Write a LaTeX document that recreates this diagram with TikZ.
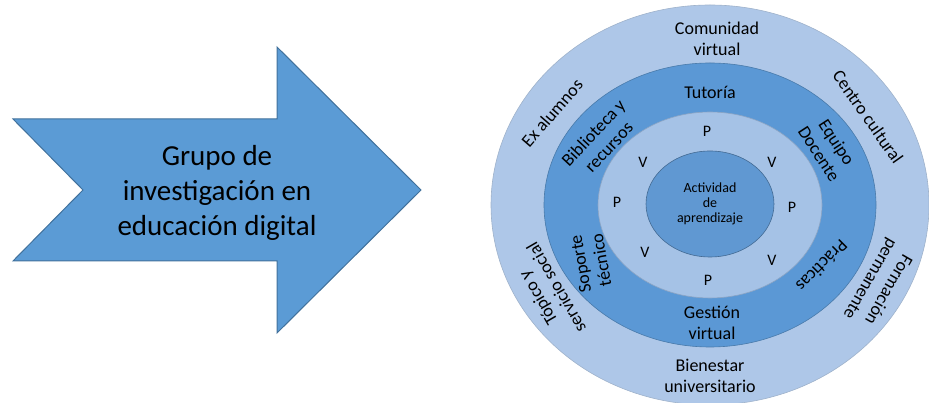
\documentclass[tikz,border=0pt]{standalone}
\usepackage{fontspec}
\setmainfont{Carlito}
\definecolor{anillo1}{RGB}{174,199,232}
\definecolor{anillo2}{RGB}{91,152,213}
\definecolor{anillo3}{RGB}{165,194,230}
\definecolor{nucleo}{RGB}{96,152,210}
\definecolor{flecha}{RGB}{91,155,213}
\definecolor{borde}{RGB}{65,113,156}

\begin{document}
\begin{tikzpicture}[x=1pt,y=1pt,
  ringtext/.style={align=center,font=\fontsize{18}{21}\selectfont},
  letra/.style={font=\fontsize{16}{18}\selectfont}]
\useasboundingbox (0,0) rectangle (929,403);

% flecha
\draw[borde, fill=flecha, line width=1pt]
  (13,284) -- (277,284) -- (277,356) -- (421,213) -- (277,70)
  -- (277,142) -- (13,142) -- (83,213) -- cycle;
\node[align=center, font=\fontsize{29}{35}\selectfont] (grupo) at (217,210)
  {Grupo de\\investigación en\\educación digital};

% circulos
\coordinate (o) at (710,198);
\draw[anillo1!85!black!90, fill=anillo1, line width=0.6pt] (o) ellipse (219 and 200);
\draw[anillo2!80!black, fill=anillo2, line width=0.6pt] (o) ellipse (166 and 142);
\draw[anillo3!85!black, fill=anillo3, line width=0.6pt] (o) ellipse (112 and 93);
\draw[nucleo!70!black, fill=nucleo, line width=0.6pt] ([shift={(0,1)}]o) ellipse (64 and 53);

\node[align=center, font=\fontsize{14}{15}\selectfont] (act) at ([shift={(0,1)}]o)
  {Actividad\\de\\aprendizaje};

% P y V
\node[letra] (p1) at (707,272) {P};
\node[letra] (p2) at (617,201) {P};
\node[letra] (p3) at (792,196) {P};
\node[letra] (p4) at (708,123) {P};
\node[letra] (v1) at (643,241) {V};
\node[letra] (v2) at (772,241) {V};
\node[letra] (v3) at (645,151) {V};
\node[letra] (v4) at (772,143) {V};

% anillo medio
\node[ringtext] (tut) at (710,311) {Tutoría};
\node[ringtext] (ges) at (712,80) {Gestión\\virtual};
\node[ringtext, rotate=47] (bib) at (601,263) {Biblioteca y\\recursos};
\node[ringtext, rotate=-57] (equ) at (828,255) {Equipo\\Docente};
\node[ringtext, rotate=100] (sop) at (591,141) {Soporte\\técnico};
\node[ringtext, rotate=-135] (pra) at (822,137) {Prácticas};

% anillo exterior
\node[ringtext] (com) at (717,364) {Comunidad\\virtual};
\node[ringtext] (bie) at (710,27) {Bienestar\\universitario};
\node[ringtext, rotate=49] (exa) at (552,290) {Ex alumnos};
\node[ringtext, rotate=-55] (cen) at (868,286) {Centro cultural};
\node[ringtext, rotate=120] (top) at (547,110) {Tópico y\\servicio social};
\node[ringtext, rotate=-120] (for) at (879,119) {Formación\\permanente};

\end{tikzpicture}
\end{document}
